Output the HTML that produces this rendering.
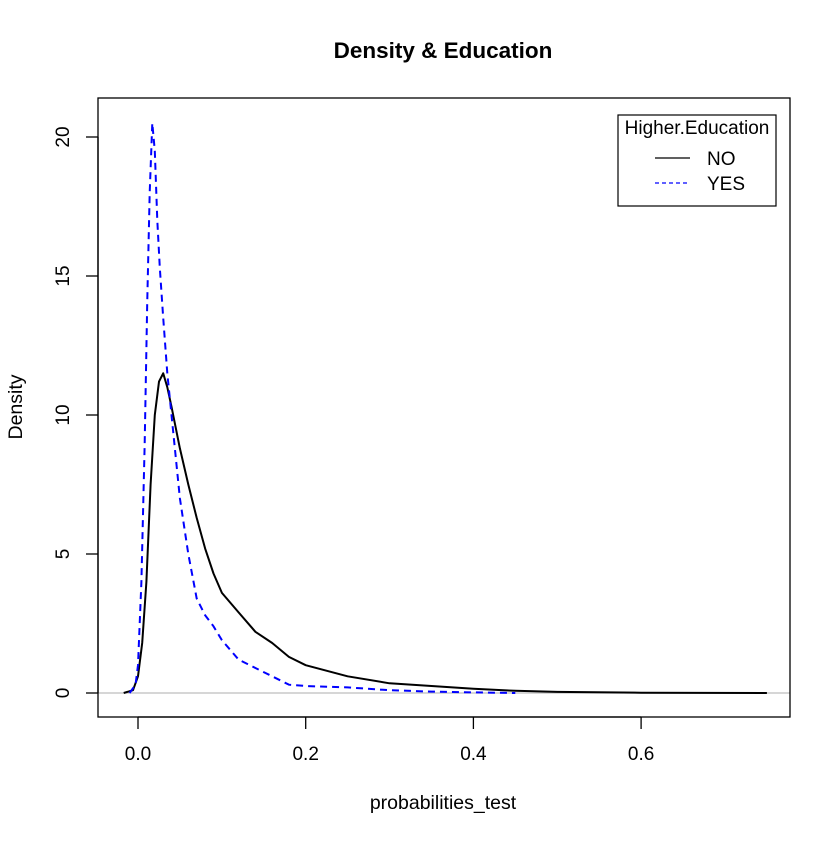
<!DOCTYPE html>
<html><head><meta charset="utf-8"><style>
html,body{margin:0;padding:0;background:#fff}
svg text{font-family:"Liberation Sans",Arial,sans-serif}
</style></head><body>
<svg id="chart" width="840" height="840" xmlns="http://www.w3.org/2000/svg">
<rect width="840" height="840" fill="#fff"/>
<text x="443" y="58" text-anchor="middle" font-size="22.5" font-weight="bold">Density &amp; Education</text>
<text x="443" y="809" text-anchor="middle" font-size="19.5">probabilities_test</text>
<text x="22" y="407" text-anchor="middle" font-size="19.5" transform="rotate(-90 22 407)">Density</text>
<line x1="98" y1="693" x2="790" y2="693" stroke="#bebebe" stroke-width="1.3"/>
<g id="axes"></g>
<g id="series"></g>
<rect x="98" y="98" width="692" height="619" fill="none" stroke="#000" stroke-width="1.3"/>
<g>
<rect x="618" y="115" width="158" height="91" fill="#fff" stroke="#000" stroke-width="1.2"/>
<text x="697" y="134" text-anchor="middle" font-size="19">Higher.Education</text>
<line x1="655" y1="158" x2="690" y2="158" stroke="#000" stroke-width="1.3"/>
<text x="707" y="165" font-size="19">NO</text>
<line x1="655" y1="183" x2="690" y2="183" stroke="#00f" stroke-width="1.3" stroke-dasharray="4 3"/>
<text x="707" y="190" font-size="19">YES</text>
</g>
</svg>
<script>
const xTicks=[0.0,0.2,0.4,0.6];
const xTickLabels=["0.0","0.2","0.4","0.6"];
const yTicks=[0,5,10,15,20];
const yTickLabels=["0","5","10","15","20"];
const noX=[-0.017,-0.006,0.0,0.005,0.01,0.015,0.02,0.025,0.03,0.035,0.04,0.05,0.06,0.07,0.08,0.09,0.1,0.12,0.14,0.16,0.18,0.2,0.25,0.3,0.35,0.4,0.45,0.5,0.6,0.75];
const noY=[0,0.1,0.6,1.8,4,7.5,10,11.2,11.5,11.0,10.3,8.8,7.5,6.3,5.2,4.3,3.6,2.9,2.2,1.8,1.3,1.0,0.6,0.35,0.25,0.15,0.08,0.04,0.01,0];
const yesX=[-0.01,-0.003,0.0,0.004,0.008,0.011,0.014,0.017,0.02,0.023,0.026,0.03,0.035,0.04,0.05,0.06,0.07,0.08,0.09,0.1,0.12,0.14,0.16,0.18,0.2,0.25,0.3,0.35,0.4,0.45];
const yesY=[0,0.3,1,4,9,14,18,20.5,19.5,17,15.3,13.5,11.5,10,7,5,3.4,2.8,2.4,1.9,1.2,0.9,0.6,0.3,0.25,0.2,0.1,0.05,0.02,0];
const sx=v=>138+v*838.5;
const sy=v=>693-v*27.8;
const NS="http://www.w3.org/2000/svg";
const axes=document.getElementById('axes');
function mk(t,a,p){const e=document.createElementNS(NS,t);for(const k in a)e.setAttribute(k,a[k]);p.appendChild(e);return e;}
mk('line',{x1:sx(xTicks[0]),y1:717,x2:sx(xTicks[xTicks.length-1]),y2:717,stroke:'#000','stroke-width':1.3},axes);
xTicks.forEach((v,i)=>{
 const l=mk('line',{x1:sx(v),y1:717,x2:sx(v),y2:729,stroke:'#000','stroke-width':1.3},axes);
 
 
 const t=mk('text',{x:sx(v),y:760,'text-anchor':'middle','font-size':19},axes);
 t.textContent=xTickLabels[i];
 
 
});
mk('line',{x1:98,y1:sy(yTicks[0]),x2:98,y2:sy(yTicks[yTicks.length-1]),stroke:'#000','stroke-width':1.3},axes);
yTicks.forEach((v,i)=>{
 const l=mk('line',{x1:86,y1:sy(v),x2:98,y2:sy(v),stroke:'#000','stroke-width':1.3},axes);
 
 
 const t=mk('text',{x:69,y:sy(v),'text-anchor':'middle','font-size':19,transform:`rotate(-90 69 ${sy(v)})`},axes);
 t.textContent=yTickLabels[i];
 
 
});
const ser=document.getElementById('series');
function path(xs,ys){return xs.map((x,i)=>(i?'L':'M')+sx(x).toFixed(1)+','+sy(ys[i]).toFixed(1)).join(' ');}
const pn=mk('path',{d:path(noX,noY),fill:'none',stroke:'#000','stroke-width':2,'stroke-linejoin':'round'},ser);


const py=mk('path',{d:path(yesX,yesY),fill:'none',stroke:'#00f','stroke-width':2,'stroke-dasharray':'7 5'},ser);


</script>
</body></html>
